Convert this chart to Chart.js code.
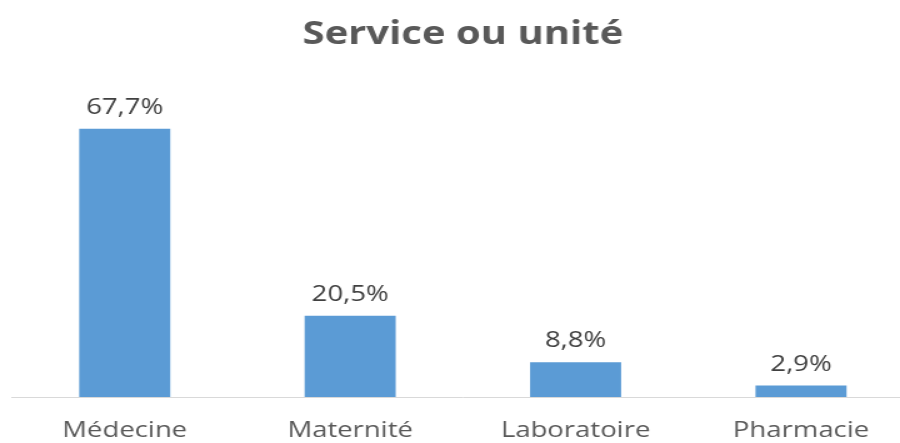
<!DOCTYPE html>
<html>
<head>
<meta charset="utf-8">
<script src="https://cdn.jsdelivr.net/npm/chart.js@4"></script>
<style>
  html, body { margin: 0; padding: 0; background: #fff; overflow: hidden; }
  #wrap { width: 900px; height: 443px; overflow: hidden; }
  /* le graphique d'origine est étiré horizontalement */
  #box { width: 731px; height: 443px; transform: scaleX(1.25); transform-origin: 0 0; }
</style>
</head>
<body>
<div id="wrap"><div id="box"><canvas id="serviceChart"></canvas></div></div>
<script>
// Données
const services = ["Médecine", "Maternité", "Laboratoire", "Pharmacie"]
const pourcentages = [67.7, 20.5, 8.8, 2.9]

// Étiquettes au-dessus des barres
const valueLabels = {
  id: "valueLabels",
  afterDatasetsDraw(chart) {
    const ctx = chart.ctx
    const meta = chart.getDatasetMeta(0)
    ctx.save()
    ctx.font = "22px 'Open Sans'"
    ctx.fillStyle = "#404040"
    ctx.textAlign = "center"
    ctx.textBaseline = "alphabetic"
    meta.data.forEach((bar, i) => {
      const txt = pourcentages[i].toFixed(1).replace(".", ",") + "%"
      ctx.fillText(txt, bar.x, bar.y - 15)
    })
    ctx.restore()
  },
}

const ctx = document.getElementById("serviceChart").getContext("2d")
new Chart(ctx, {
  type: "bar",
  data: {
    labels: services,
    datasets: [
      {
        data: pourcentages,
        backgroundColor: "#5b9bd5",
        borderWidth: 0,
        barPercentage: 0.404,
        categoryPercentage: 1,
      },
    ],
  },
  options: {
    responsive: true,
    maintainAspectRatio: false,
    animation: false,
    layout: { padding: { left: 9.6, right: 0, top: 0, bottom: 0 } },
    plugins: {
      legend: { display: false },
      tooltip: { enabled: false },
      title: {
        display: true,
        text: "Service ou unité",
        color: "#595959",
        font: { family: "'Open Sans'", size: 32, weight: "bold" },
        padding: { top: 16, bottom: 25.6 },
      },
    },
    scales: {
      x: {
        grid: { display: false, drawTicks: false },
        border: { color: "#d9d9d9", width: 1 },
        ticks: {
          color: "#595959",
          padding: 21,
          font: { family: "'Open Sans'", size: 22 },
        },
        afterFit: (scale) => {
          scale.height = 46
        },
      },
      y: {
        display: false,
        min: 0,
        max: 80,
      },
    },
  },
  plugins: [valueLabels],
})
</script>
</body>
</html>
